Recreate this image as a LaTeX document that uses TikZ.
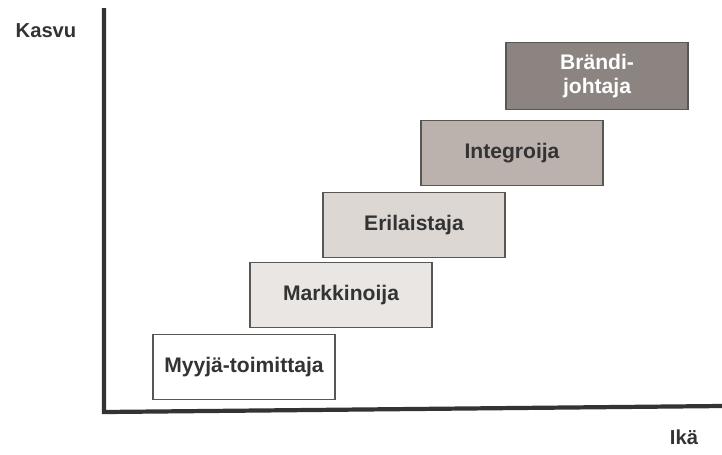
\documentclass[tikz,border=0pt]{standalone}
\usepackage{fontspec}
\setmainfont{Liberation Sans}
\definecolor{inkgray}{HTML}{333333}
\definecolor{edgegray}{HTML}{5A5654}
\definecolor{stage1}{HTML}{FFFFFF}
\definecolor{stage2}{HTML}{EAE6E4}
\definecolor{stage3}{HTML}{DDD7D4}
\definecolor{stage4}{HTML}{BBB2AE}
\definecolor{stage5}{HTML}{8C8481}
\tikzset{
  stagebox/.style={draw=edgegray, line width=0.9pt, minimum width=3.64cm, minimum height=1.3cm,
    font=\fontsize{12}{13.5}\selectfont\bfseries, text=inkgray, align=center, inner sep=0pt},
  axislabel/.style={font=\fontsize{11.5}{13}\selectfont\bfseries, text=inkgray},
  axisline/.style={line width=2.4pt, draw=inkgray}
}
\begin{document}
\begin{tikzpicture}[x=0.02cm, y=-0.02cm]
    \useasboundingbox (0,0) rectangle (722,454);
    % Axes
    \coordinate (origin) at (104,412);
    \coordinate (ytop) at (104,8);
    \coordinate (xend) at (722,406);
    \draw[axisline] (ytop) -- (origin) -- (xend);

    % Axis labels
    \node[axislabel] (kasvu) at (46,31) {Kasvu};
    \node[axislabel] (ika) at (684,437) {Ikä};

    % Stages
    \node[stagebox, fill=stage1] (myyja) at (244,367) {Myyjä-toimittaja};
    \node[stagebox, fill=stage2] (markkinoija) at (341,295) {Markkinoija};
    \node[stagebox, fill=stage3] (erilaistaja) at (414,225) {Erilaistaja};
    \node[stagebox, fill=stage4] (integroija) at (512,153) {Integroija};
    \node[stagebox, fill=stage5, text=white, minimum height=1.34cm] (brandi) at (597,76) {Brändi-\\johtaja};
\end{tikzpicture}
\end{document}
